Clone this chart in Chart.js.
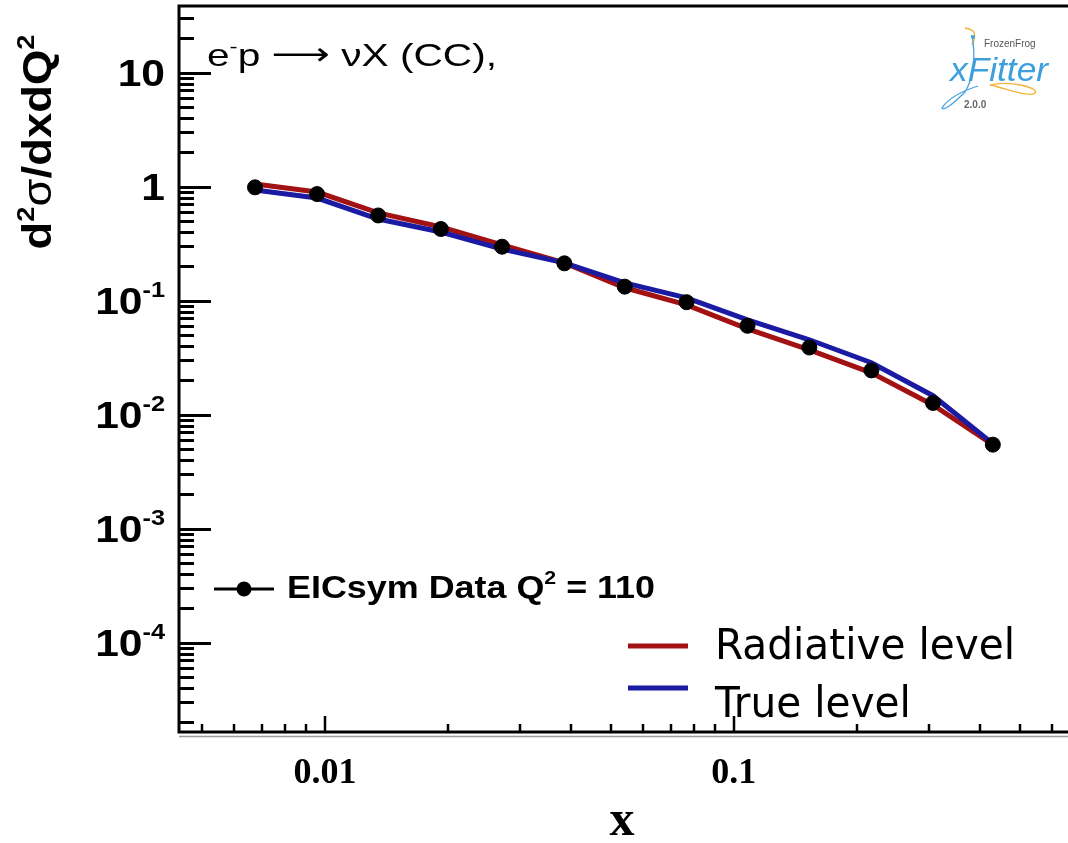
<!DOCTYPE html>
<html lang="en">
<head>
<meta charset="UTF-8">
<title>d2sigma/dxdQ2 - CC e-p</title>
<script src="https://cdn.jsdelivr.net/npm/chart.js"></script>
<style>
    html, body { margin: 0; padding: 0; background: #fff; overflow: hidden; }
    #wrap { width: 1068px; height: 843px; position: relative; }
    #xsec { display: block; }
</style>
</head>
<body>
<div id="wrap"><canvas id="xsec"></canvas></div>
<script>
    // x bins and cross sections
    const xVals = [0.00674, 0.00956, 0.01349, 0.0192, 0.0271, 0.0385, 0.0541, 0.0766, 0.108, 0.153, 0.217, 0.307, 0.430];
    const dataVals = [0.988, 0.863, 0.560, 0.426, 0.298, 0.213, 0.133, 0.0972, 0.0603, 0.0389, 0.0245, 0.0127, 0.00547];
    const radiativeVals = [1.056, 0.899, 0.589, 0.444, 0.309, 0.215, 0.130, 0.0920, 0.0566, 0.0371, 0.0233, 0.0122, 0.00546];
    const trueVals = [0.936, 0.796, 0.521, 0.401, 0.284, 0.215, 0.1435, 0.106, 0.068, 0.0455, 0.0286, 0.0147, 0.00558];

    // axis ranges and tick labels
    const xMin = 0.004393, xMax = 0.6567;
    const yMin = 1.65e-5, yMax = 38.5;
    const xTickVals = [0.01, 0.1];
    const xTickLabels = ['0.01', '0.1'];
    const yTickVals = [10, 1, 0.1, 0.01, 0.001, 0.0001];
    const yTickBase = ['10', '1', '10', '10', '10', '10'];
    const yTickSup = ['', '', '-1', '-2', '-3', '-4'];

    const RED = '#a31212';
    const BLUE = '#1a1aa3';

    const pts = vals => xVals.map((x, i) => ({ x: x, y: vals[i] }));

    // text helpers: runs of text with different fonts / offsets
    function runWidth(ctx, parts) {
        let w = 0;
        parts.forEach(p => { ctx.font = p.font; w += ctx.measureText(p.t).width; });
        return w;
    }
    function drawRun(ctx, parts, x, y, align, sx) {
        sx = sx || 1;
        const w = runWidth(ctx, parts) * sx;
        const x0 = align === 'right' ? x - w : align === 'center' ? x - w / 2 : x;
        ctx.save();
        ctx.translate(x0, y);
        ctx.scale(sx, 1);
        ctx.textAlign = 'left';
        ctx.textBaseline = 'alphabetic';
        let off = 0;
        parts.forEach(p => {
            ctx.font = p.font;
            ctx.fillStyle = p.color || '#000';
            ctx.fillText(p.t, off, p.dy || 0);
            off += ctx.measureText(p.t).width;
        });
        ctx.restore();
    }
    function fitRun(ctx, parts, x, y, width) {
        drawRun(ctx, parts, x, y, 'left', width / runWidth(ctx, parts));
    }

    const rootFrame = {
        id: 'rootFrame',
        afterDraw(chart) {
            const ctx = chart.ctx;
            const ca = chart.chartArea;
            const xs = chart.scales.x, ys = chart.scales.y;
            ctx.save();

            // frame
            ctx.strokeStyle = '#000';
            ctx.lineWidth = 3;
            ctx.beginPath();
            ctx.moveTo(ca.right, ca.top);
            ctx.lineTo(ca.left, ca.top);
            ctx.lineTo(ca.left, ca.bottom);
            ctx.lineTo(ca.right, ca.bottom);
            ctx.stroke();
            ctx.strokeStyle = '#999';
            ctx.lineWidth = 1.5;
            ctx.beginPath();
            ctx.moveTo(ca.left, ca.bottom + 4.5);
            ctx.lineTo(ca.right, ca.bottom + 4.5);
            ctx.stroke();

            // inward ticks, ROOT style
            ctx.strokeStyle = '#000';
            ctx.lineWidth = 3;
            ctx.beginPath();
            for (let e = -5; e <= 1; e++) {
                for (let m = 1; m <= 9; m++) {
                    const v = m * Math.pow(10, e);
                    if (v < yMin || v > yMax) continue;
                    const py = Math.round(ys.getPixelForValue(v)) + 0.5;
                    ctx.moveTo(ca.left, py);
                    ctx.lineTo(ca.left + (m === 1 ? 32 : 15), py);
                }
            }
            ctx.stroke();
            ctx.lineWidth = 2.5;
            ctx.beginPath();
            for (let e = -3; e <= 0; e++) {
                for (let m = 1; m <= 9; m++) {
                    const v = m * Math.pow(10, e);
                    if (v < xMin || v > xMax) continue;
                    const px = Math.round(xs.getPixelForValue(v));
                    ctx.moveTo(px, ca.bottom);
                    ctx.lineTo(px, ca.bottom - (m === 1 ? 16 : 8));
                }
            }
            ctx.stroke();

            // y tick labels
            const yFont = 'bold 37px "Liberation Sans", Arial, sans-serif';
            const ySupFont = 'bold 22px "Liberation Sans", Arial, sans-serif';
            yTickVals.forEach((v, i) => {
                const py = ys.getPixelForValue(v);
                const parts = [{ t: yTickBase[i], font: yFont }];
                if (yTickSup[i]) parts.push({ t: yTickSup[i], font: ySupFont, dy: -17 });
                drawRun(ctx, parts, 165, py + 13, 'right', 1.15);
            });

            // x tick labels and title
            const xFont = 'bold 36px "Liberation Serif", "Times New Roman", serif';
            xTickVals.forEach((v, i) => {
                drawRun(ctx, [{ t: xTickLabels[i], font: xFont }], xs.getPixelForValue(v), 783, 'center');
            });
            drawRun(ctx, [{ t: 'x', font: 'bold 50px "Liberation Serif", serif' }], 622, 835, 'center');

            // y title, rotated
            ctx.save();
            ctx.translate(51, 142);
            ctx.rotate(-Math.PI / 2);
            const tb = 'bold 40px "Liberation Sans", Arial, sans-serif';
            const ts = 'bold 24px "Liberation Sans", Arial, sans-serif';
            const tParts = [
                { t: 'd', font: tb },
                { t: '2', font: ts, dy: -17 },
                { t: 'σ', font: '40px "Liberation Sans", Arial, sans-serif' },
                { t: '/dxdQ', font: tb },
                { t: '2', font: ts, dy: -17 }
            ];
            drawRun(ctx, tParts, 0, 0, 'center', 215 / runWidth(ctx, tParts));
            ctx.restore();

            // process label
            const pf = '32px "Liberation Sans", Arial, sans-serif';
            fitRun(ctx, [
                { t: 'e', font: pf },
                { t: '-', font: '19px "Liberation Sans", Arial, sans-serif', dy: -13 },
                { t: 'p ', font: pf },
                { t: '\u27f6', font: '32px "DejaVu Sans", sans-serif', dy: -1 },
                { t: ' \u03bdX (CC),', font: pf }
            ], 207, 66, 290);

            // data legend entry
            const dset = chart.data.datasets[0];
            ctx.strokeStyle = '#000';
            ctx.lineWidth = 3;
            ctx.beginPath();
            ctx.moveTo(214, 589);
            ctx.lineTo(274, 589);
            ctx.stroke();
            ctx.fillStyle = dset.backgroundColor;
            ctx.beginPath();
            ctx.arc(244, 589, dset.pointRadius, 0, Math.PI * 2);
            ctx.fill();
            const lf = 'bold 32px "Liberation Sans", Arial, sans-serif';
            fitRun(ctx, [
                { t: dset.label.replace('Q2', 'Q'), font: lf },
                { t: '2', font: 'bold 19px "Liberation Sans", Arial, sans-serif', dy: -14 },
                { t: ' = 110', font: lf }
            ], 287, 598, 368);

            // theory legend entries
            const gf = '42px "DejaVu Sans", Verdana, sans-serif';
            const rad = [{ t: chart.data.datasets[1].label, font: gf }];
            const sx = 300 / runWidth(ctx, rad);
            [[1, 646, 659], [2, 688, 717]].forEach(([di, ly, by]) => {
                const ds = chart.data.datasets[di];
                ctx.strokeStyle = ds.borderColor;
                ctx.lineWidth = 5;
                ctx.beginPath();
                ctx.moveTo(628, ly);
                ctx.lineTo(688, ly);
                ctx.stroke();
                drawRun(ctx, [{ t: ds.label, font: gf }], 715, by, 'left', sx);
            });

            // xFitter logo
            ctx.lineWidth = 1.3;
            ctx.strokeStyle = '#f2b43a';
            ctx.beginPath();
            ctx.moveTo(965, 28);
            ctx.quadraticCurveTo(980, 30, 972, 45);
            ctx.moveTo(990, 85);
            ctx.bezierCurveTo(1010, 80, 1040, 88, 1035, 93);
            ctx.bezierCurveTo(1030, 98, 1005, 88, 990, 85);
            ctx.stroke();
            ctx.strokeStyle = '#4aa3e0';
            ctx.beginPath();
            ctx.moveTo(972, 35);
            ctx.quadraticCurveTo(978, 70, 965, 92);
            ctx.quadraticCurveTo(945, 112, 942, 108);
            ctx.quadraticCurveTo(950, 95, 978, 86);
            ctx.stroke();
            ctx.fillStyle = '#4aa3e0';
            ctx.beginPath();
            ctx.arc(973, 37, 2, 0, Math.PI * 2);
            ctx.fill();
            drawRun(ctx, [{ t: 'FrozenFrog', font: '10px "Liberation Sans", Arial, sans-serif', color: '#555' }], 984, 47, 'left');
            fitRun(ctx, [{ t: 'xFitter', font: 'italic 34px "Liberation Sans", Arial, sans-serif', color: '#3d9fdc' }], 950, 81, 98);
            drawRun(ctx, [{ t: '2.0.0', font: 'bold 10px "Liberation Sans", Arial, sans-serif', color: '#666' }], 964, 108, 'left');

            ctx.restore();
        }
    };

    new Chart(document.getElementById('xsec'), {
        type: 'line',
        data: {
            datasets: [
                {
                    label: 'EICsym Data Q2',
                    data: pts(dataVals),
                    showLine: false,
                    pointRadius: 7.5,
                    pointBackgroundColor: '#000',
                    backgroundColor: '#000',
                    borderColor: '#000',
                    order: 0
                },
                {
                    label: 'Radiative level',
                    data: pts(radiativeVals),
                    borderColor: RED,
                    borderWidth: 5,
                    pointRadius: 0,
                    tension: 0,
                    order: 2
                },
                {
                    label: 'True level',
                    data: pts(trueVals),
                    borderColor: BLUE,
                    borderWidth: 5,
                    pointRadius: 0,
                    tension: 0,
                    order: 1
                }
            ]
        },
        options: {
            responsive: true,
            maintainAspectRatio: false,
            animation: false,
            layout: { autoPadding: false, padding: { left: 179, top: 6, right: 0, bottom: 111 } },
            plugins: {
                legend: { display: false },
                tooltip: { enabled: false }
            },
            scales: {
                x: {
                    type: 'logarithmic',
                    min: xMin,
                    max: xMax,
                    grid: { display: false },
                    border: { display: false },
                    ticks: { display: false },
                    afterFit(s) { s.height = 0; }
                },
                y: {
                    type: 'logarithmic',
                    min: yMin,
                    max: yMax,
                    grid: { display: false },
                    border: { display: false },
                    ticks: { display: false },
                    afterFit(s) { s.width = 0; }
                }
            }
        },
        plugins: [rootFrame]
    });
</script>
</body>
</html>
